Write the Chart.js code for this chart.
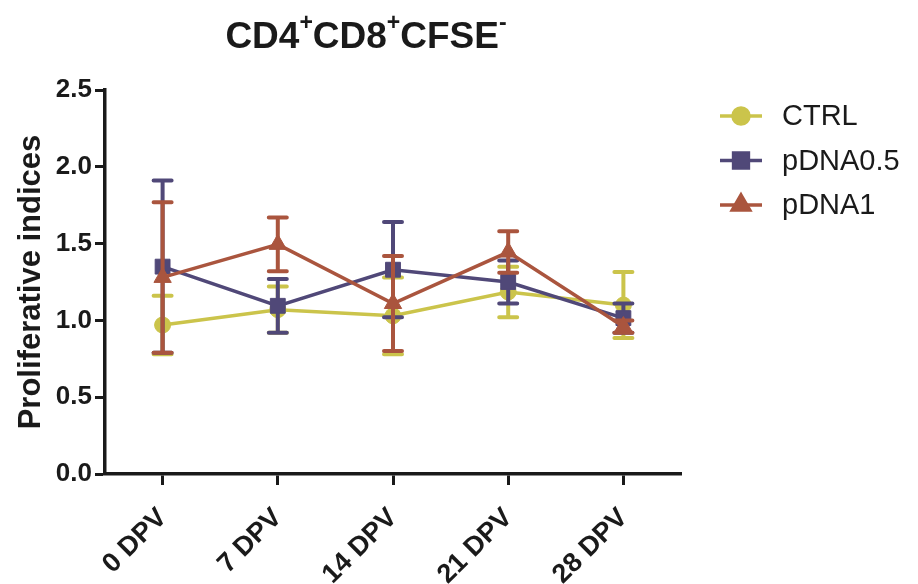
<!DOCTYPE html>
<html>
<head>
<meta charset="utf-8">
<title>CD4+CD8+CFSE- proliferative indices</title>
<script src="https://cdn.jsdelivr.net/npm/chart.js@4.4.1/dist/chart.umd.min.js"></script>
<style>
  html, body { margin: 0; padding: 0; background: #ffffff; }
  #wrap { width: 918px; height: 584px; position: relative; }
</style>
</head>
<body>
<div id="wrap"><canvas id="chart"></canvas></div>
<script>
const categories = ['0 DPV', '7 DPV', '14 DPV', '21 DPV', '28 DPV'];
const ctrlMeans = [0.97, 1.07, 1.03, 1.185, 1.10];
const ctrlErrors = [0.19, 0.15, 0.25, 0.165, 0.215];
const pdna05Means = [1.35, 1.095, 1.33, 1.25, 1.015];
const pdna05Errors = [0.56, 0.175, 0.31, 0.14, 0.095];
const pdna1Means = [1.28, 1.495, 1.11, 1.445, 0.96];
const pdna1Errors = [0.49, 0.175, 0.31, 0.135, 0.04];
const yTicks = [0, 0.5, 1.0, 1.5, 2.0, 2.5];
const titleParts = [['CD4', false], ['+', true], ['CD8', false], ['+', true], ['CFSE', false], ['-', true]];

const axisColor = '#1a1a1a';
const fontFamily = '"Liberation Sans", Arial, Helvetica, sans-serif';

const seriesList = [
  { label: 'CTRL', data: ctrlMeans, errors: ctrlErrors, color: '#cbc44b', style: 'circle', radius: 8, order: 3 },
  { label: 'pDNA0.5', data: pdna05Means, errors: pdna05Errors, color: '#504878', style: 'rect', radius: 10.5, order: 2 },
  { label: 'pDNA1', data: pdna1Means, errors: pdna1Errors, color: '#aa553e', style: 'triangle', radius: 10, order: 1 },
];

// error bars drawn right before each dataset so its own line and markers sit on top
const errorBarPlugin = {
  id: 'errorBars',
  beforeDatasetDraw(chart, args) {
    const dataset = chart.data.datasets[args.index];
    const yScale = chart.scales.y;
    const ctx = chart.ctx;
    ctx.save();
    ctx.strokeStyle = dataset.borderColor;
    ctx.lineWidth = 4;
    ctx.lineCap = 'round';
    args.meta.data.forEach((point, i) => {
      const x = point.x;
      const top = yScale.getPixelForValue(dataset.data[i] + dataset.errors[i]);
      const bottom = yScale.getPixelForValue(dataset.data[i] - dataset.errors[i]);
      ctx.beginPath();
      ctx.moveTo(x, top);
      ctx.lineTo(x, bottom);
      ctx.moveTo(x - 9, top);
      ctx.lineTo(x + 9, top);
      ctx.moveTo(x - 9, bottom);
      ctx.lineTo(x + 9, bottom);
      ctx.stroke();
    });
    ctx.restore();
  }
};

const titlePlugin = {
  id: 'superTitle',
  afterDraw(chart) {
    const ctx = chart.ctx;
    const mainFont = `bold 37px ${fontFamily}`;
    const supFont = `bold 23px ${fontFamily}`;
    ctx.save();
    ctx.fillStyle = axisColor;
    ctx.textBaseline = 'alphabetic';
    ctx.textAlign = 'left';
    let total = 0;
    titleParts.forEach(([text, sup]) => {
      ctx.font = sup ? supFont : mainFont;
      total += ctx.measureText(text).width;
    });
    let x = 366 - total / 2;
    titleParts.forEach(([text, sup]) => {
      ctx.font = sup ? supFont : mainFont;
      ctx.fillText(text, x, sup ? 30 : 48);
      x += ctx.measureText(text).width;
    });
    ctx.restore();
  }
};

const legendPlugin = {
  id: 'lineLegend',
  afterDraw(chart) {
    const ctx = chart.ctx;
    ctx.save();
    chart.data.datasets.forEach((dataset, i) => {
      const y = 116 + i * 44.5;
      ctx.strokeStyle = dataset.borderColor;
      ctx.lineWidth = 3.5;
      ctx.beginPath();
      ctx.moveTo(720, y);
      ctx.lineTo(762, y);
      ctx.stroke();
      Chart.helpers.drawPoint(ctx, {
        pointStyle: dataset.pointStyle,
        radius: dataset.pointRadius,
        borderWidth: 1,
        rotation: 0,
      }, 741, y);
      ctx.fillStyle = dataset.borderColor;
      ctx.strokeStyle = dataset.borderColor;
      ctx.fill();
      ctx.fillStyle = axisColor;
      ctx.font = `29px ${fontFamily}`;
      ctx.textBaseline = 'middle';
      ctx.textAlign = 'left';
      ctx.fillText(dataset.label, 782, y + 1);
    });
    ctx.restore();
  }
};

const datasets = seriesList.map((series) => ({
  label: series.label,
  data: series.data,
  errors: series.errors,
  order: series.order,
  borderColor: series.color,
  backgroundColor: series.color,
  borderWidth: 3.5,
  pointStyle: series.style,
  pointRadius: series.radius,
  pointHoverRadius: series.radius,
  pointBackgroundColor: series.color,
  pointBorderColor: series.color,
  pointBorderWidth: 1,
  tension: 0,
  fill: false,
}));

new Chart(document.getElementById('chart'), {
  type: 'line',
  data: { labels: categories, datasets },
  options: {
    responsive: true,
    maintainAspectRatio: false,
    animation: false,
    layout: { padding: { top: 90, right: 237, left: 0, bottom: 0 } },
    plugins: {
      legend: { display: false },
      title: { display: false },
      tooltip: { enabled: false },
    },
    scales: {
      x: {
        offset: true,
        grid: { drawOnChartArea: false, drawTicks: true, tickLength: 11, tickWidth: 3, tickColor: axisColor },
        border: { display: true, width: 3.5, color: axisColor },
        ticks: {
          color: axisColor,
          font: { family: fontFamily, size: 27, weight: 'bold' },
          minRotation: 45,
          maxRotation: 45,
          padding: 17,
        },
        afterFit: (scale) => { scale.height = 110; },
      },
      y: {
        min: 0,
        max: 2.5,
        grid: { drawOnChartArea: false, drawTicks: true, tickLength: 10, tickWidth: 3, tickColor: axisColor },
        border: { display: true, width: 3.5, color: axisColor },
        afterBuildTicks: (scale) => { scale.ticks = yTicks.map((value) => ({ value })); },
        ticks: {
          color: axisColor,
          font: { family: fontFamily, size: 26, weight: 'bold' },
          padding: 3,
          callback: (value) => Number(value).toFixed(1),
        },
        title: {
          display: true,
          text: 'Proliferative indices',
          color: axisColor,
          font: { family: fontFamily, size: 31, weight: 'bold' },
          padding: { top: 13, bottom: 0 },
        },
        afterFit: (scale) => { scale.width = 105; },
      },
    },
  },
  plugins: [errorBarPlugin, titlePlugin, legendPlugin],
});
</script>
</body>
</html>
